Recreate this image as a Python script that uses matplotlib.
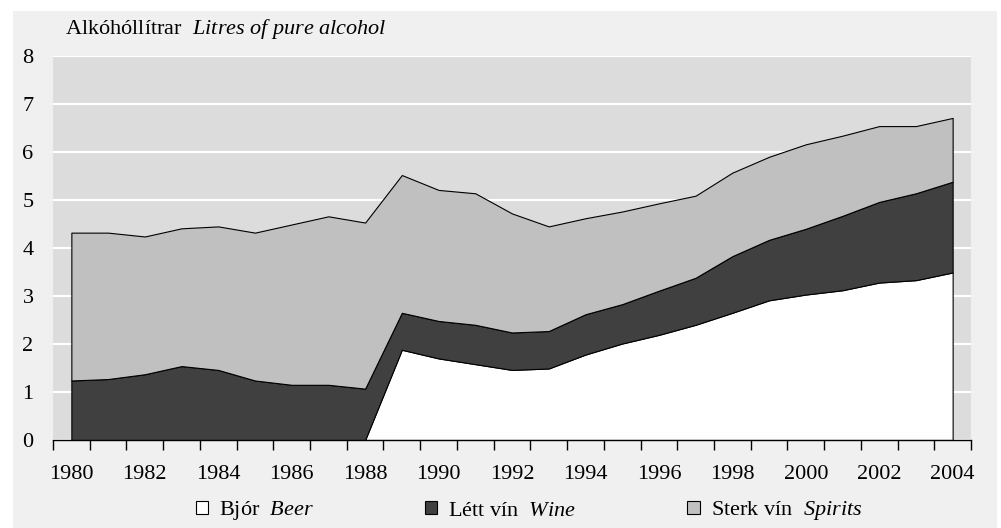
import numpy as np
import matplotlib
matplotlib.use("Agg")
import matplotlib.pyplot as plt
from matplotlib.patches import Patch, Rectangle

plt.rcParams['font.family'] = ['Liberation Serif', 'DejaVu Serif']
plt.rcParams['mathtext.fontset'] = 'custom'
plt.rcParams['mathtext.rm'] = 'Liberation Serif'
plt.rcParams['mathtext.it'] = 'Liberation Serif:italic'

years = np.arange(1980, 2005)
beer = [0, 0, 0, 0, 0, 0, 0, 0, 0,
        1.88, 1.70, 1.58, 1.46, 1.49, 1.78, 2.01, 2.19, 2.40, 2.65, 2.91,
        3.03, 3.12, 3.28, 3.33, 3.49]
wine = [1.24, 1.27, 1.37, 1.54, 1.46, 1.24, 1.15, 1.15, 1.07,
        0.77, 0.78, 0.82, 0.78, 0.78, 0.84, 0.82, 0.92, 0.98, 1.18, 1.26,
        1.37, 1.55, 1.68, 1.81, 1.89]
spirits = [3.08, 3.05, 2.87, 2.87, 2.99, 3.08, 3.34, 3.51, 3.46,
           2.87, 2.73, 2.74, 2.48, 2.18, 2.00, 1.93, 1.82, 1.71, 1.74, 1.73,
           1.76, 1.67, 1.58, 1.40, 1.33]
labels = [r'Bjór  $\it{Beer}$', r'Létt vín  $\it{Wine}$', r'Sterk vín  $\it{Spirits}$']
colors = ['#ffffff', '#404040', '#c0c0c0']

FS = 16

fig = plt.figure(figsize=(10.01, 5.28), dpi=100)
fig.patch.set_facecolor('white')
# light grey panel behind the chart
fig.patches.append(Rectangle((13 / 1001, 0), 984 / 1001, 517 / 528,
                             transform=fig.transFigure, facecolor='#f0f0f0',
                             edgecolor='none', zorder=-10))

ax = fig.add_axes([53 / 1001, 1 - 440 / 528, 918 / 1001, 384 / 528])
ax.set_facecolor('#dcdcdc')

ax.stackplot(years, beer, wine, spirits, colors=colors,
             edgecolor='black', linewidth=0.8, zorder=2)

ax.set_xlim(1979.5, 2004.5)
ax.set_ylim(0, 8)
ax.set_yticks(range(0, 9))
ax.yaxis.grid(True, color='white', linewidth=1.6, zorder=1)
ax.set_axisbelow(True)
ax.tick_params(axis='y', length=0, pad=14, labelsize=FS)

# tick marks between categories, labels on every other year
ax.set_xticks(np.arange(1979.5, 2005, 1))
ax.set_xticklabels([])
ax.set_xticks(years[::2], minor=True)
ax.set_xticklabels([str(y) for y in years[::2]], minor=True)
ax.tick_params(axis='x', which='major', length=7, width=1, color='black', direction='out')
ax.tick_params(axis='x', which='minor', length=0, pad=18, labelsize=FS)

for s in ['left', 'right', 'top']:
    ax.spines[s].set_visible(False)
ax.spines['bottom'].set_linewidth(1)
ax.spines['bottom'].set_zorder(3)

fig.text(65 / 1001, 1 - 29 / 528, r'Alkóhóllítrar  $\it{Litres\ of\ pure\ alcohol}$',
         fontsize=FS, va='center', ha='left')

handles = [Patch(facecolor=c, edgecolor='black', linewidth=0.8) for c in colors]
fig.legend(handles, labels, loc='center', bbox_to_anchor=(529 / 1001, 1 - 511 / 528),
           ncol=3, frameon=False, fontsize=FS, handlelength=0.55, handleheight=0.55,
           handletextpad=0.5, columnspacing=5.0)

fig.savefig('out.png', dpi=100, facecolor=fig.get_facecolor())
